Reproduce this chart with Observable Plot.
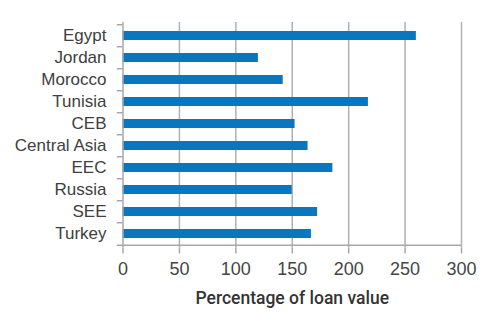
<!DOCTYPE html>
<html>
<head>
<meta charset="utf-8">
<script src="https://cdn.jsdelivr.net/npm/d3@7"></script>
<script src="https://cdn.jsdelivr.net/npm/@observablehq/plot@0.6"></script>
<style>
  html, body { margin: 0; padding: 0; background: #fff; }
  #chart { width: 500px; height: 333px; }
</style>
</head>
<body>
<div id="chart"></div>
<script>
const countries = ["Egypt", "Jordan", "Morocco", "Tunisia", "CEB", "Central Asia", "EEC", "Russia", "SEE", "Turkey"];
const values = [260, 120, 142, 217.5, 152.5, 164, 186, 150, 172.5, 167];
const xTicks = [0, 50, 100, 150, 200, 250, 300];
const xLabel = "Percentage of loan value";

const data = countries.map((c, i) => ({country: c, value: values[i]}));
const band = (247.5 - 22) / countries.length;

const chart = Plot.plot({
  width: 500,
  height: 333,
  marginLeft: 122.5,
  marginRight: 39,
  marginTop: 22,
  marginBottom: 85.5,
  style: {fontFamily: "Liberation Sans, Arial, sans-serif", fontSize: "17px", color: "#404040", background: "#fff"},
  x: {domain: [0, 300], ticks: xTicks},
  y: {domain: countries, paddingInner: 0.6, paddingOuter: 0.3, align: 0.5},
  marks: [
    Plot.gridX(xTicks.slice(1), {stroke: "#b0b0b0", strokeWidth: 1.5, strokeOpacity: 1}),
    Plot.barX(data, {x: "value", y: "country", fill: "#0a76bf"}),
    // y axis line
    Plot.ruleX([0], {stroke: "#a8a8a8", strokeWidth: 1.5}),
    // x axis line
    Plot.ruleY([countries[countries.length - 1]], {x1: -5, x2: 300, dy: band / 2, stroke: "#a8a8a8", strokeWidth: 1.5, clip: false}),
    // y boundary ticks
    Plot.ruleY(countries, {y: d => d, x1: -5, x2: 0, dy: -band / 2, stroke: "#a8a8a8", strokeWidth: 1.5}),
    Plot.axisY({tickSize: 0, tickPadding: 16.5, label: null, fontSize: 17, fill: "#404040"}),
    Plot.axisX(xTicks, {tickSize: 6, tickPadding: 8, stroke: "#a8a8a8", strokeWidth: 1.5, fontSize: 18, fill: "#454545", label: null}),
    Plot.text([xLabel], {frameAnchor: "bottom", dy: 50.5, lineAnchor: "middle", fontSize: 17.5, fontWeight: 500,
      fontFamily: "Roboto, Liberation Sans, sans-serif", fill: "#333", text: d => d})
  ]
});
document.getElementById("chart").appendChild(chart);
</script>
</body>
</html>
